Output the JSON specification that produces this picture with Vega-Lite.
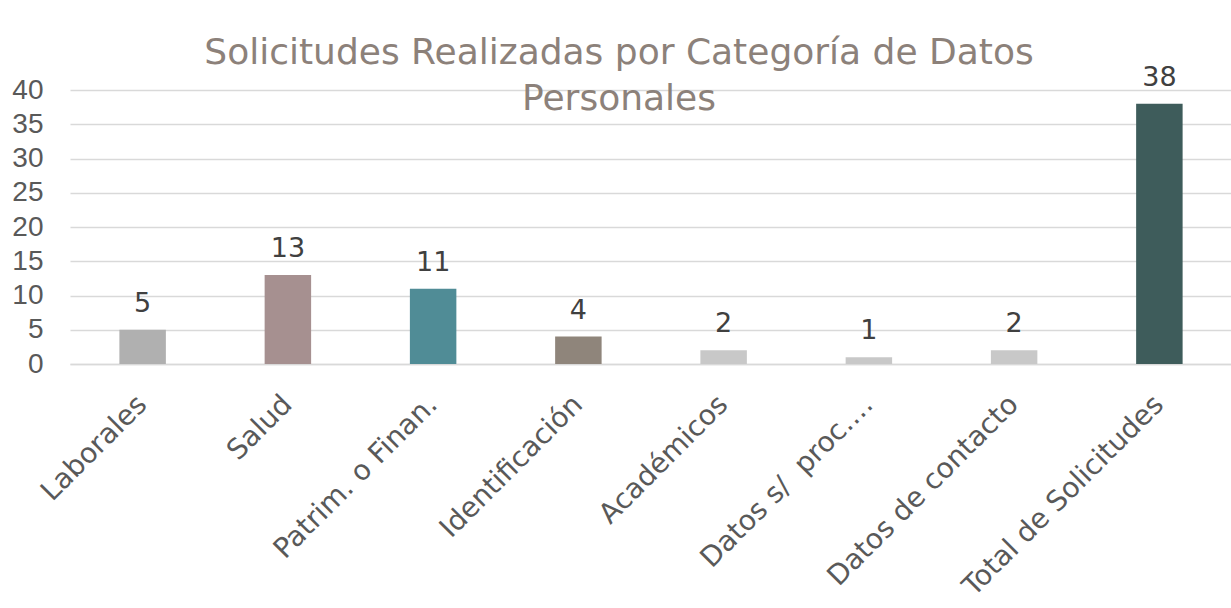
{
  "$schema": "https://vega.github.io/schema/vega-lite/v6.json",
  "autosize": {"type": "none"},
  "width": 1162,
  "height": 274,
  "padding": {"left": 70, "top": 90, "right": 0, "bottom": 244},
  "background": "white",
  "config": {"view": {"stroke": null}, "font": "DejaVu Sans"},
  "title": {
    "text": ["Solicitudes Realizadas por Categoría de Datos", "Personales"],
    "fontSize": 36,
    "fontWeight": "normal",
    "font": "DejaVu Sans",
    "color": "#8c817a",
    "lineHeight": 46,
    "anchor": "middle",
    "baseline": "alphabetic",
    "offset": 0,
    "dx": -32,
    "dy": 82
  },
  "data": {
    "values": [
      {"cat": "Laborales", "val": 5},
      {"cat": "Salud", "val": 13},
      {"cat": "Patrim. o Finan.", "val": 11},
      {"cat": "Identificación", "val": 4},
      {"cat": "Académicos", "val": 2},
      {"cat": "Datos s/\u00a0 proc.…", "val": 1},
      {"cat": "Datos de contacto", "val": 2},
      {"cat": "Total de Solicitudes", "val": 38}
    ]
  },
  "encoding": {
    "x": {
      "field": "cat", "type": "nominal", "sort": null,
      "scale": {"paddingInner": 0.68, "paddingOuter": 0.34},
      "axis": {
        "title": null, "labelAngle": -45, "labelAlign": "right", "labelBaseline": "middle",
        "labelFontSize": 28, "labelColor": "#595959", "labelPadding": 36,
        "ticks": false, "domainColor": "#d9d9d9", "domainWidth": 1.5, "labelLimit": 400
      }
    },
    "y": {
      "field": "val", "type": "quantitative",
      "scale": {"domain": [0, 40], "nice": false},
      "axis": {
        "title": null, "values": [0, 5, 10, 15, 20, 25, 30, 35, 40],
        "labelFontSize": 28, "labelColor": "#595959", "labelFont": "Liberation Sans",
        "labelPadding": 27, "ticks": false, "domain": false,
        "gridColor": "#d9d9d9", "gridWidth": 1.5
      }
    }
  },
  "layer": [
    {
      "mark": {"type": "bar"},
      "encoding": {
        "color": {
          "field": "cat", "type": "nominal", "legend": null,
          "scale": {
            "domain": ["Laborales", "Salud", "Patrim. o Finan.", "Identificación", "Académicos", "Datos s/\u00a0 proc.…", "Datos de contacto", "Total de Solicitudes"],
            "range": ["#b0b0b0", "#a69090", "#508c96", "#8f857b", "#c8c8c8", "#c8c8c8", "#c8c8c8", "#3e5c5b"]
          }
        }
      }
    },
    {
      "mark": {"type": "text", "baseline": "alphabetic", "dy": -18, "fontSize": 27, "color": "#404040", "font": "DejaVu Sans"},
      "encoding": {"text": {"field": "val", "type": "quantitative"}}
    }
  ]
}
